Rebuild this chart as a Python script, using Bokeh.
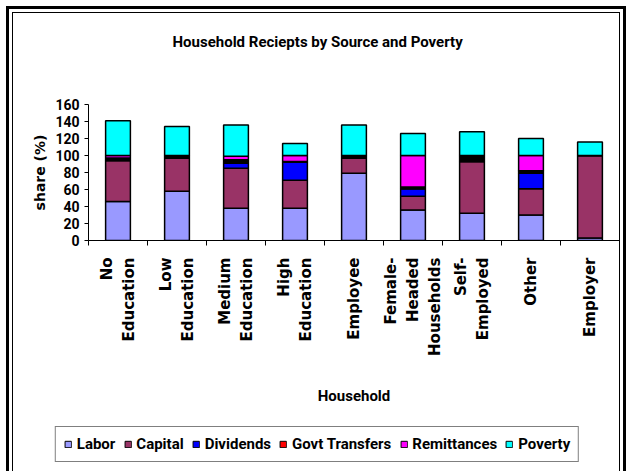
import math
from bokeh.plotting import figure
from bokeh.layouts import column, row
from bokeh.models import Range1d, FixedTicker, Legend, LegendItem, ColumnDataSource
from bokeh.embed import file_html
from bokeh.resources import INLINE

categories = ["No\nEducation", "Low\nEducation", "Medium\nEducation", "High\nEducation",
              "Employee", "Female-\nHeaded\nHouseholds", "Self-\nEmployed", "Other", "Employer"]
labor = [46, 58, 38, 38, 79, 36, 32, 30, 3]
capital = [48, 39, 47, 33, 18, 16, 61, 31, 97]
dividends = [0, 0, 6, 21, 0, 9, 0, 18, 0]
govt_transfers = [0, 0, 0, 0, 0, 0, 0, 2, 0]
unlabeled_other = [3, 3, 4, 1, 3, 2, 7, 1, 0]
remittances = [3, 0, 4, 7, 0, 37, 0, 18, 0]
poverty = [41, 34, 37, 14, 36, 26, 28, 20, 16]
y_ticks = [0, 20, 40, 60, 80, 100, 120, 140, 160]
title_text = "Household Reciepts by Source and Poverty"

series = [("Labor", labor, "#9999FF"), ("Capital", capital, "#993366"),
          ("Dividends", dividends, "#0000FF"), ("Govt Transfers", govt_transfers, "#FF0000"),
          (None, unlabeled_other, "#000000"), ("Remittances", remittances, "#FF00FF"),
          ("Poverty", poverty, "#00FFFF")]

NARROW = "Roboto"
WIDE = "DejaVu Sans"

n = len(categories)
xs = [i + 0.5 for i in range(n)]
data = {"x": xs}
keys = []
for i, (name, vals, col) in enumerate(series):
    k = "s%d" % i
    data[k] = vals
    keys.append(k)
src = ColumnDataSource(data)
colors = [s[2] for s in series]

# ---- title strip
p0 = figure(width=608, height=64, output_backend="svg", toolbar_location=None,
            x_range=Range1d(0, 1), y_range=Range1d(0, 1),
            x_axis_location=None, y_axis_location=None, min_border=0, title=title_text)
p0.styles = {"border": "1px solid black", "border-bottom": "none"}
p0.outline_line_color = None
p0.xgrid.visible = False
p0.ygrid.visible = False
p0.title.text_font = NARROW
p0.title.text_font_style = "bold"
p0.title.text_font_size = "15px"
p0.title.text_color = "black"
p0.title.align = "left"
p0.title.offset = 84
p0.title.standoff = 53

# ---- main chart
p = figure(width=608, height=341, output_backend="svg", toolbar_location=None,
           x_range=Range1d(0, n), y_range=Range1d(0, 160),
           min_border_left=75, min_border_right=2, min_border_top=28, min_border_bottom=177)
p.styles = {"border-left": "1px solid black", "border-right": "1px solid black"}
p.outline_line_color = None
p.xgrid.visible = False
p.ygrid.visible = False

p.vbar_stack(keys, x="x", width=0.42, source=src,
             fill_color=colors, line_color="black", line_width=1.5)

xa = p.xaxis[0]
xa.ticker = FixedTicker(ticks=xs, minor_ticks=list(range(n + 1)))
xa.major_label_overrides = {x: c for x, c in zip(xs, categories)}
xa.major_label_orientation = math.pi / 2
xa.major_tick_out = 0
xa.major_tick_in = 0
xa.minor_tick_out = 5
xa.minor_tick_in = 0
xa.major_label_standoff = 12
xa.major_label_text_font = WIDE
xa.major_label_text_font_style = "bold"
xa.major_label_text_font_size = "15px"
xa.major_label_text_color = "black"
xa.axis_label = "Household"
xa.axis_label_text_font = NARROW
xa.axis_label_text_font_style = "bold"
xa.axis_label_text_font_size = "15px"
xa.axis_label_text_color = "black"
xa.axis_label_standoff = 28
xa.axis_line_color = "black"

ya = p.yaxis[0]
ya.ticker = FixedTicker(ticks=y_ticks)
ya.major_tick_out = 4
ya.major_tick_in = 0
ya.minor_tick_line_color = None
ya.major_label_standoff = 5
ya.major_label_text_font = NARROW
ya.major_label_text_font_style = "bold"
ya.major_label_text_font_size = "14px"
ya.major_label_text_color = "black"
ya.axis_label = "share (%)"
ya.axis_label_text_font = WIDE
ya.axis_label_text_font_style = "bold"
ya.axis_label_text_font_size = "14px"
ya.axis_label_text_color = "black"
ya.axis_label_standoff = 4

# ---- legend strip: same data, ranges chosen so the bars stay out of view
p2 = figure(width=608, height=54, output_backend="svg", toolbar_location=None,
            x_range=Range1d(0, n), y_range=Range1d(1000, 1001),
            x_axis_location=None, y_axis_location=None, min_border=0)
p2.styles = {"border-left": "1px solid black", "border-right": "1px solid black"}
p2.outline_line_color = None
p2.xgrid.visible = False
p2.ygrid.visible = False
rs2 = p2.vbar_stack(keys, x="x", width=0.42, source=src,
                    fill_color=colors, line_color="black", line_width=1)
items = [LegendItem(label=s[0], renderers=[r]) for s, r in zip(series, rs2) if s[0]]
legend = Legend(items=items, orientation="horizontal", location="center")
legend.label_text_font = NARROW
legend.label_text_font_style = "bold"
legend.label_text_font_size = "15px"
legend.label_text_color = "black"
legend.glyph_width = 8
legend.glyph_height = 8
legend.label_standoff = 5
legend.spacing = 8
legend.padding = 8
legend.margin = 0
legend.border_line_color = "black"
legend.border_line_width = 1
p2.add_layout(legend, "center")

layout = column(p0, p, row(p2), spacing=0)
layout.margin = (12, 0, 0, 12)
layout.styles = {"outline": "3px solid black", "outline-offset": "3px"}

open("out.html", "w").write(file_html(layout, INLINE))
